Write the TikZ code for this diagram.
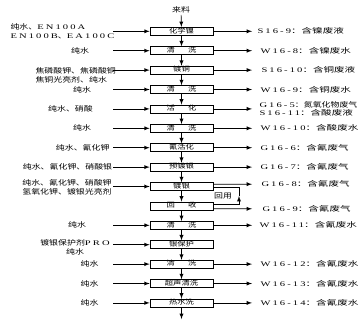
\documentclass[tikz,border=0pt]{standalone}
\usepackage{fontspec}
\setmainfont[FakeStretch=1.27]{Noto Sans CJK SC}
\newfontfamily\cjkw[FakeStretch=1.5]{Noto Sans CJK SC}
\newfontfamily\latf[FakeStretch=1.5,LetterSpace=30]{Liberation Serif}
\newcommand{\eng}[1]{{\latf #1}}
\newcommand{\wcode}[1]{{\latf #1}：}
\usepackage{tikz}
\usetikzlibrary{arrows}
\tikzset{>=latex}
\tikzstyle{proc} = [rectangle, draw=black, fill=white, minimum width=1.89cm, minimum height=0.24cm, inner sep=0, text height=4.2pt, text depth=1pt, font=\fontsize{5.6}{6.5}\selectfont]
\tikzstyle{lab} = [draw=none, inner sep=1, font=\fontsize{6}{7.5}\selectfont]
\tikzstyle{olab} = [lab, anchor=west, font=\fontsize{6}{7}\selectfont\cjkw]
\tikzstyle{dn} = [-latex]
\tikzstyle{ina} = [-latex]
\tikzstyle{outa} = [-latex]

\begin{document}
\begin{tikzpicture}[x=0.03cm, y=-0.03cm, line width=0.6pt]
\useasboundingbox (0, 0) rectangle (358, 322);
\coordinate (inx) at (113, 0);
\coordinate (outx) at (252, 0);
\node [lab] (top) at (181, 10) {来料};
\node [proc] (b1) at (181.5, 31.3) {化学镍};
\node [proc] (b2) at (181.5, 50.7) {清\qquad 洗};
\node [proc] (b3) at (181.5, 70.1) {镀铜};
\node [proc] (b4) at (181.5, 89.5) {清\qquad 洗};
\node [proc] (b5) at (181.5, 108.9) {活\qquad 化};
\node [proc] (b6) at (181.5, 128.3) {清\qquad 洗};
\node [proc] (b7) at (181.5, 147.7) {氰活化};
\node [proc] (b8) at (181.5, 167.1) {预镀银};
\node [proc] (b9) at (181.5, 186.5) {镀银};
\node [proc] (b10) at (181.5, 205.9) {回\qquad 收};
\node [proc] (b11) at (181.5, 225.3) {清\qquad 洗};
\node [proc] (b12) at (181.5, 244.7) {银保护};
\node [proc] (b13) at (181.5, 264.1) {清\qquad 洗};
\node [proc] (b14) at (181.5, 283.5) {超声清洗};
\node [proc] (b15) at (181.5, 302.9) {热水洗};
\coordinate (end) at (181.5, 319);
\draw [dn] (top) to (b1);
\draw [dn] (b1) to (b2);
\draw [dn] (b2) to (b3);
\draw [dn] (b3) to (b4);
\draw [dn] (b4) to (b5);
\draw [dn] (b5) to (b6);
\draw [dn] (b6) to (b7);
\draw [dn] (b7) to (b8);
\draw [dn] (b8) to (b9);
\draw [dn] (b9) to (b10);
\draw [dn] (b10) to (b11);
\draw [dn] (b11) to (b12);
\draw [dn] (b12) to (b13);
\draw [dn] (b13) to (b14);
\draw [dn] (b14) to (b15);
\draw [dn] (b15) to (end);
% materials in
\node [lab, align=left, anchor=west] (m1) at (9, 31) {纯水、\eng{EN100A}\\\eng{EN100B}、\eng{EA100C}};
\node [lab] (m2) at (80, 50.7) {纯水};
\node [lab, align=left, anchor=west] (m3) at (34, 75) {焦磷酸钾、焦磷酸铜\\焦铜光亮剂、纯水};
\node [lab] (m4) at (82, 89.5) {纯水};
\node [lab] (m5) at (70.5, 108.9) {纯水、硝酸};
\node [lab] (m6) at (82, 128.3) {纯水};
\node [lab, anchor=east] (m7) at (111, 147.7) {纯水、氰化钾};
\node [lab] (m8) at (67.5, 167.1) {纯水、氰化钾、硝酸银};
\node [lab, align=center] (m9) at (67, 187.5) {纯水、氰化钾、硝酸钾\\氢氧化钾、镀银光亮剂};
\node [lab] (m11) at (77, 225.3) {纯水};
\node [lab, align=center] (m12) at (75, 247) {镀银保护剂\eng{PRO}\\纯水};
\node [lab] (m13) at (89.5, 264.1) {纯水};
\node [lab] (m14) at (89.5, 283.5) {纯水};
\node [lab] (m15) at (89.5, 302.9) {纯水};
\draw [ina] (inx |- b1) to (b1);
\draw [ina] (inx |- b2) to (b2);
\draw [ina] (inx |- b3) to (b3);
\draw [ina] (inx |- b4) to (b4);
\draw [ina] (inx |- b5) to (b5);
\draw [ina] (inx |- b6) to (b6);
\draw [ina] (inx |- b7) to (b7);
\draw [ina] (inx |- b8) to (b8);
\draw [ina] (inx |- b9) to (b9);
\draw [ina] (inx |- b11) to (b11);
\draw [ina] (inx |- b12) to (b12);
\draw [ina] (inx |- b13) to (b13);
\draw [ina] (inx |- b14) to (b14);
\draw [ina] (inx |- b15) to (b15);
% wastes out
\node [olab] (o1) at (256, 31.3) {\wcode{S16-9}含镍废液};
\node [olab] (o2) at (259, 50.7) {\wcode{W16-8}含镍废水};
\node [olab] (o3) at (260, 70.1) {\wcode{S16-10}含铜废液};
\node [olab] (o4) at (259, 89.5) {\wcode{W16-9}含铜废水};
\node [olab, align=left] (o5) at (258, 108.9) {\eng{G16-5}{\rmfamily ：氮氧化物废气}\\\wcode{S16-11}含酸废液};
\node [olab] (o6) at (259, 128.3) {\wcode{W16-10}含酸废水};
\node [olab] (o7) at (259, 147.7) {\wcode{G16-6}含氰废气};
\node [olab] (o8) at (259, 167.1) {\wcode{G16-7}含氰废气};
\node [olab] (o9) at (260, 184.2) {\wcode{G16-8}含氰废气};
\node [olab] (o10) at (261, 208.8) {\wcode{G16-9}含氰废气};
\node [olab] (o11) at (258, 225.3) {\wcode{W16-11}含氰废水};
\node [olab] (o13) at (259, 264.1) {\wcode{W16-12}含氰废水};
\node [olab] (o14) at (259, 283.5) {\wcode{W16-13}含氰废水};
\node [olab] (o15) at (259, 302.9) {\wcode{W16-14}含氰废水};
\draw [outa] (b1) to (outx |- b1);
\draw [outa] (b2) to (outx |- b2);
\draw [outa] (b3) to (outx |- b3);
\draw [outa] (b4) to (outx |- b4);
\draw [outa] (b5) to (outx |- b5);
\draw [outa] (b6) to (outx |- b6);
\draw [outa] (b7) to (outx |- b7);
\draw [outa] (b8) to (outx |- b8);
\draw [outa] ([yshift=2pt]b9.east) to (outx |- o9);
\draw [outa] ([yshift=-2.5pt]b10.east) to (outx |- o10);
\draw [outa] (b11) to (outx |- b11);
\draw [outa] (b13) to (outx |- b13);
\draw [outa] (b14) to (outx |- b14);
\draw [outa] (b15) to (outx |- b15);
% reuse loop
\coordinate (ret) at (239, 196);
\node [lab] (hy) at (223, 195.5) {回用};
\draw [-latex] ([yshift=1.5pt]b10.east) -| (ret);
\draw (ret) |- ([yshift=-0.8pt]b9.east);
\end{tikzpicture}
\end{document}
